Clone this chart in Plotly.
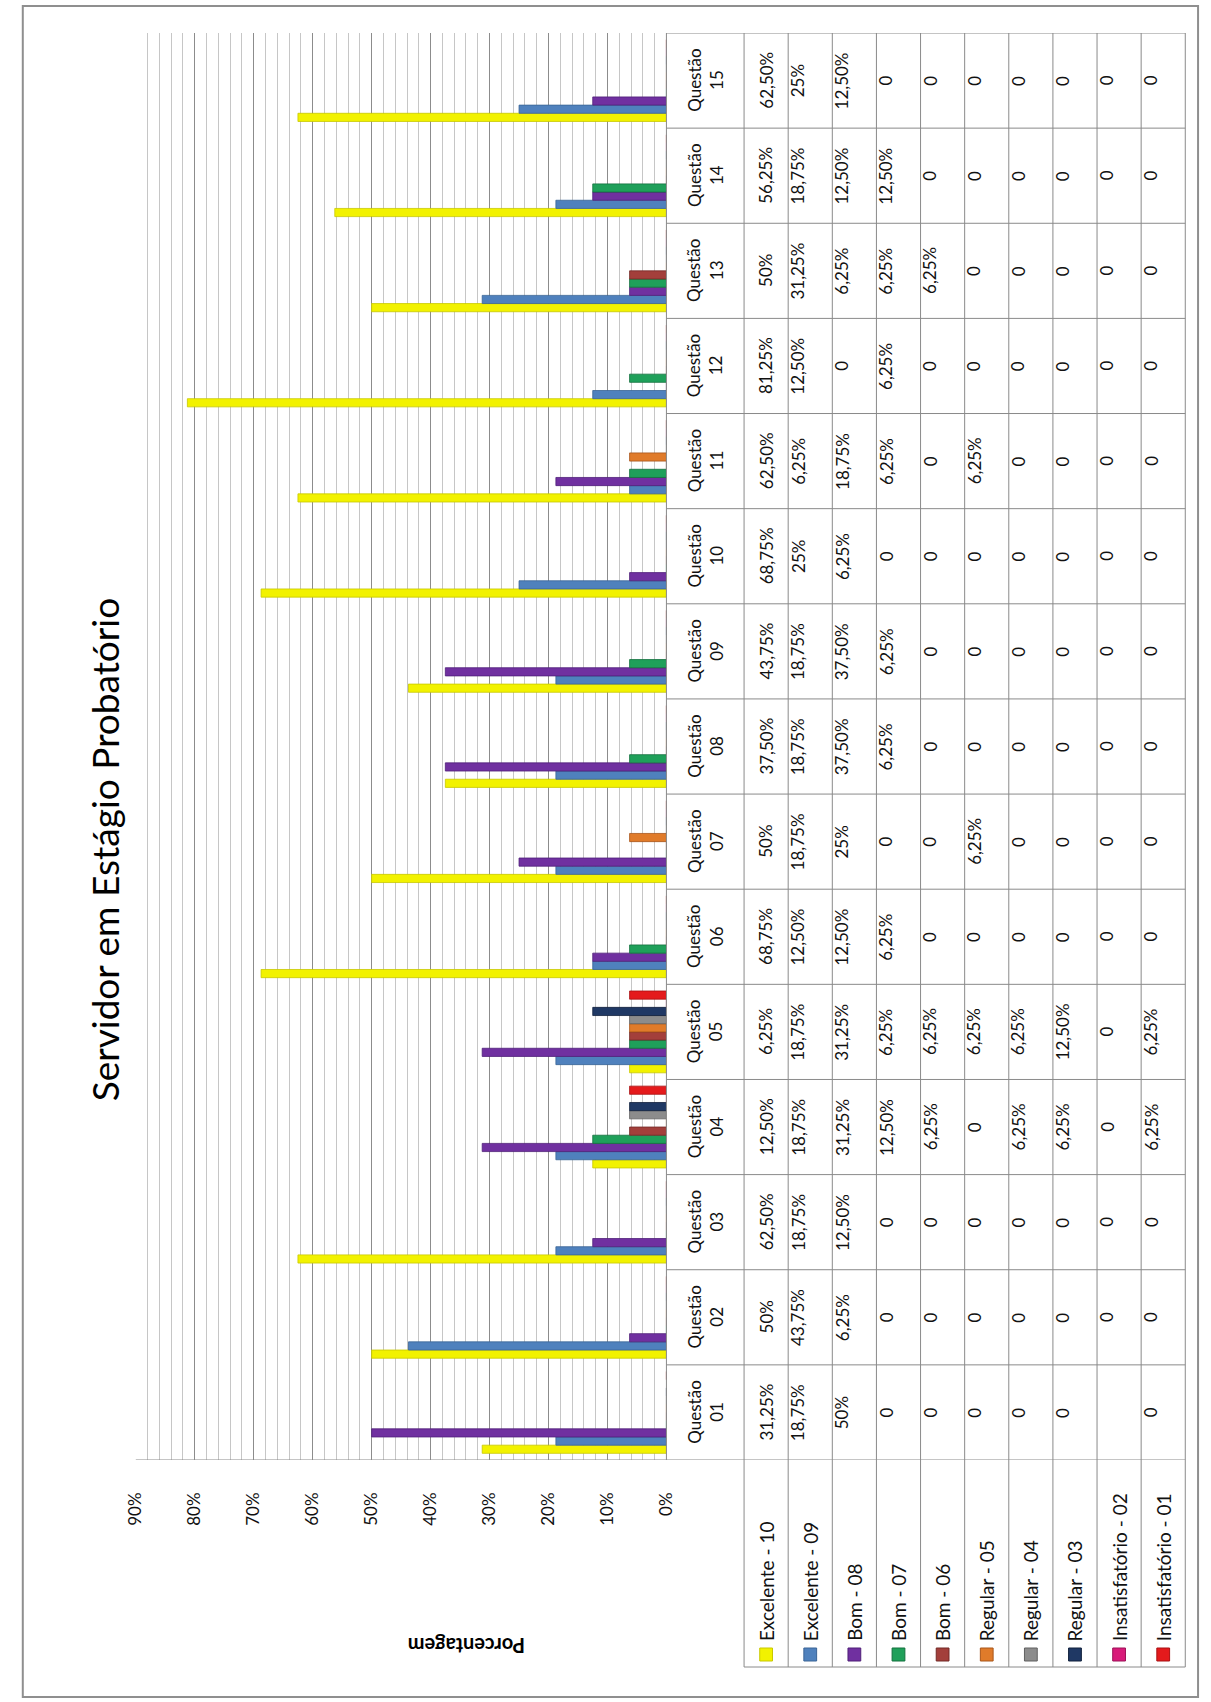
import plotly.graph_objects as go

# Canvas size (px)
W, H = 1211, 1702

# ---- data -------------------------------------------------------------
questoes = ["01", "02", "03", "04", "05", "06", "07", "08",
            "09", "10", "11", "12", "13", "14", "15"]
categorias = [f"Questão {q}" for q in questoes]

series = ["Excelente - 10", "Excelente - 09", "Bom - 08", "Bom - 07", "Bom - 06",
          "Regular - 05", "Regular - 04", "Regular - 03",
          "Insatisfatório - 02", "Insatisfatório - 01"]

excelente_10 = [31.25, 50, 62.5, 12.5, 6.25, 68.75, 50, 37.5, 43.75, 68.75, 62.5, 81.25, 50, 56.25, 62.5]
excelente_09 = [18.75, 43.75, 18.75, 18.75, 18.75, 12.5, 18.75, 18.75, 18.75, 25, 6.25, 12.5, 31.25, 18.75, 25]
bom_08 = [50, 6.25, 12.5, 31.25, 31.25, 12.5, 25, 37.5, 37.5, 6.25, 18.75, 0, 6.25, 12.5, 12.5]
bom_07 = [0, 0, 0, 12.5, 6.25, 6.25, 0, 6.25, 6.25, 0, 6.25, 6.25, 6.25, 12.5, 0]
bom_06 = [0, 0, 0, 6.25, 6.25, 0, 0, 0, 0, 0, 0, 0, 6.25, 0, 0]
regular_05 = [0, 0, 0, 0, 6.25, 0, 6.25, 0, 0, 0, 6.25, 0, 0, 0, 0]
regular_04 = [0, 0, 0, 6.25, 6.25, 0, 0, 0, 0, 0, 0, 0, 0, 0, 0]
regular_03 = [0, 0, 0, 6.25, 12.5, 0, 0, 0, 0, 0, 0, 0, 0, 0, 0]
insatisfatorio_02 = [None, 0, 0, 0, 0, 0, 0, 0, 0, 0, 0, 0, 0, 0, 0]
insatisfatorio_01 = [0, 0, 0, 6.25, 6.25, 0, 0, 0, 0, 0, 0, 0, 0, 0, 0]

valores = [excelente_10, excelente_09, bom_08, bom_07, bom_06,
           regular_05, regular_04, regular_03, insatisfatorio_02, insatisfatorio_01]

cores = ["#F2F200", "#4F81BD", "#7030A0", "#1FA05A", "#A33F3B",
         "#E07B2A", "#8C8C8C", "#1F3864", "#D81B7A", "#E41A1C"]
bordas = ["#C8C800", "#3A6496", "#4F1F78", "#13703D", "#732A27",
          "#A8561A", "#606060", "#10203C", "#9C1157", "#A81012"]

titulo = "Servidor em Estágio Probatório"
titulo_eixo = "Porcentagem"
ticks_pct = [0, 10, 20, 30, 40, 50, 60, 70, 80, 90]
ticks_txt = [f"{v}%" for v in ticks_pct]

# ---- layout geometry (px) ---------------------------------------------
PLOT_L, PLOT_R, PLOT_T, PLOT_B = 127, 667, 33, 1460
HEAD_R, TAB_R, LEG_B = 746, 1195, 1667
FRAME = (12, 6, 1208, 1697)
COL_W = (TAB_R - HEAD_R) / len(series)

FONT = "Lato, 'Open Sans', sans-serif"
LINE = "#8A8A8A"


def px(x):
    return x / W


def py(y):
    return 1 - y / H


def rotulo(v):
    if v is None:
        return ""
    if v == 0:
        return "0"
    if float(v).is_integer():
        return f"{int(v)}%"
    return f"{v:.2f}".replace(".", ",") + "%"


fig = go.Figure()

for nome, vals, cor, borda in zip(series, valores, cores, bordas):
    fig.add_trace(go.Bar(
        name=nome, y=categorias, x=vals, orientation="h",
        marker=dict(color=cor, line=dict(color=borda, width=0.8)),
        hoverinfo="skip",
    ))

shapes = []
annotations = []

# outer frame
shapes.append(dict(type="rect", xref="paper", yref="paper",
                   x0=px(FRAME[0]), x1=px(FRAME[2]), y0=py(FRAME[3]), y1=py(FRAME[1]),
                   line=dict(color="#8F8F8F", width=2), layer="below"))

# table: horizontal row lines at category boundaries
for k in range(len(categorias) + 1):
    yb = k - 0.5
    shapes.append(dict(type="line", xref="paper", yref="y",
                       x0=px(PLOT_L if k == 0 else PLOT_R), x1=px(TAB_R),
                       y0=yb, y1=yb, line=dict(color=LINE, width=1)))
# bottom of the legend rows
shapes.append(dict(type="line", xref="paper", yref="paper",
                   x0=px(HEAD_R), x1=px(TAB_R), y0=py(LEG_B), y1=py(LEG_B),
                   line=dict(color=LINE, width=1)))
# vertical table lines
shapes.append(dict(type="line", xref="paper", yref="paper",
                   x0=px(PLOT_R), x1=px(PLOT_R), y0=py(PLOT_B), y1=py(PLOT_T),
                   line=dict(color=LINE, width=1)))
for j in range(len(series) + 1):
    xc = HEAD_R + j * COL_W
    shapes.append(dict(type="line", xref="paper", yref="paper",
                       x0=px(xc), x1=px(xc), y0=py(LEG_B), y1=py(PLOT_T),
                       line=dict(color=LINE, width=1)))

cell_font = dict(family=FONT, size=17, color="#111111")
label_font = dict(family=FONT, size=19, color="#111111")

# header column: category names
for i, q in enumerate(questoes):
    annotations.append(dict(text=f"Questão<br>{q}", xref="paper", yref="y",
                            x=px((PLOT_R + HEAD_R) / 2), y=i, textangle=-90,
                            showarrow=False, font=cell_font, align="center"))

# value cells
for j, vals in enumerate(valores):
    xc = HEAD_R + (j + 0.5) * COL_W
    for i, v in enumerate(vals):
        t = rotulo(v)
        if t:
            annotations.append(dict(text=t, xref="paper", yref="y",
                                    x=px(xc), y=i, textangle=-90,
                                    showarrow=False, font=cell_font))
    # series label with its colour key
    annotations.append(dict(text=series[j], xref="paper", yref="paper",
                            x=px(xc), y=py(1643), textangle=-90,
                            xanchor="center", yanchor="bottom",
                            showarrow=False, font=label_font))
    shapes.append(dict(type="rect", xref="paper", yref="paper",
                       x0=px(xc - 6.5), x1=px(xc + 6.5),
                       y0=py(1661), y1=py(1648),
                       fillcolor=cores[j], line=dict(color=bordas[j], width=1)))

# chart title and value-axis title
annotations.append(dict(text=titulo, xref="paper", yref="paper",
                        x=px(70), y=py(850), textangle=-90, showarrow=False,
                        font=dict(family=FONT, size=37, color="#000000")))
annotations.append(dict(text=f"<b>{titulo_eixo}</b>", xref="paper", yref="paper",
                        x=px(402), y=py(1660), textangle=180, showarrow=False,
                        font=dict(family=FONT, size=20, color="#000000")))

fig.update_layout(
    width=W, height=H,
    margin=dict(l=0, r=0, t=0, b=0),
    paper_bgcolor="white", plot_bgcolor="white",
    barmode="group", bargap=0.14, bargroupgap=0,
    showlegend=False,
    shapes=shapes, annotations=annotations,
    xaxis=dict(
        domain=[px(PLOT_L), px(PLOT_R)],
        range=[90, 0], tickmode="array", tickvals=ticks_pct, ticktext=ticks_txt,
        showgrid=True, gridcolor="#8C8C8C", gridwidth=1,
        minor=dict(dtick=2, showgrid=True, gridcolor="#C6C6C6", gridwidth=1),
        zeroline=False, showline=False, ticks="",
        tickangle=-90, ticklabelstandoff=28,
        tickfont=dict(family=FONT, size=17, color="#111111"),
    ),
    yaxis=dict(
        domain=[py(PLOT_B), py(PLOT_T)],
        type="category", range=[-0.5, len(categorias) - 0.5],
        showticklabels=False, showgrid=False, zeroline=False, ticks="",
    ),
)

fig.write_html("out.html")
